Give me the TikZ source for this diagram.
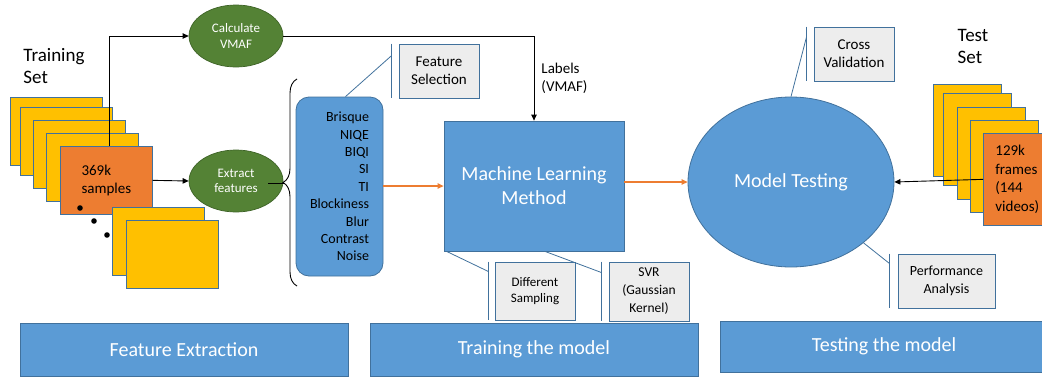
\documentclass[tikz,border=0pt]{standalone}
\usepackage{fontspec}
\setmainfont{Carlito}
\usepackage{xcolor}
\usetikzlibrary{arrows.meta,positioning,calc,shapes.geometric,decorations.pathreplacing}

\definecolor{msblue}{HTML}{5B9BD5}
\definecolor{msedge}{HTML}{41719C}
\definecolor{msgreen}{HTML}{548235}
\definecolor{msgreenedge}{HTML}{3E6327}
\definecolor{msyellow}{HTML}{FFC000}
\definecolor{msorange}{HTML}{ED7D31}
\definecolor{msgray}{HTML}{EDEDED}

\begin{document}
\begin{tikzpicture}[x=1pt,y=-1pt,
  frame/.style={rectangle,draw=msedge,fill=msyellow,line width=0.7pt,inner sep=0pt,anchor=north west},
  trn/.style={frame,minimum width=92pt,minimum height=68pt},
  tst/.style={frame,minimum width=68pt,minimum height=92pt},
  proc/.style={ellipse,draw=msgreenedge,fill=msgreen,line width=0.7pt,inner sep=0pt,minimum width=94pt,minimum height=62pt,text=white,align=center,font=\fontsize{13}{15.5}\selectfont},
  blk/.style={draw=msedge,fill=msblue,line width=0.8pt,inner sep=0pt,align=center},
  callout/.style={rectangle,draw=msedge,fill=msgray,line width=0.8pt,inner sep=0pt,align=center,font=\fontsize{14}{17.5}\selectfont},
  cbar/.style={draw=msedge,line width=0.8pt},
  stage/.style={blk,rectangle,minimum width=328pt,minimum height=53pt,text=white,font=\fontsize{20}{24}\selectfont},
  big/.style={align=left,font=\fontsize{19}{22.5}\selectfont},
  ar/.style={-{Triangle[length=6pt,width=5.5pt]},line width=0.9pt},
  oar/.style={ar,draw=msorange,fill=msorange,line width=1.2pt}
]
\useasboundingbox (0,0) rectangle (1042,378);

% training set
\node[big] (trset) at (54,66) {Training\\Set};
\node[trn] (s1) at (10,97) {};
\node[trn] (s2) at (20,107) {};
\node[trn] (s3) at (33,120) {};
\node[trn] (s4) at (46,133) {};
\node[trn,fill=msorange,align=left,font=\fontsize{15}{18}\selectfont] (smp) at (60,146) {369k\\samples};
\node[trn] (a1) at (112,207) {};
\node[trn] (a2) at (126,220) {};
\fill (80,208) circle (2.8pt) (94,221) circle (2.8pt) (107,235) circle (2.8pt);

% green steps
\node[proc] (calc) at (236,36) {Calculate\\VMAF};
\node[proc] (ext) at (236,181) {Extract\\features};

% features
\node[blk,rectangle,rounded corners=13pt,minimum width=87pt,minimum height=179pt,align=right,font=\fontsize{14}{17.4}\selectfont] (feat) at (339.5,186.5) {Brisque\\NIQE\\BIQI\\SI\\TI\\Blockiness\\Blur\\Contrast\\Noise};
\coordinate (btip) at (284,183);
\draw[decorate,decoration={brace,amplitude=14pt},line width=0.9pt] (297,286) -- (297,79);

% model
\node[blk,rectangle,minimum width=180pt,minimum height=130pt,text=white,font=\fontsize{20}{24}\selectfont] (ml) at (534,186) {Machine Learning\\Method};
\node[blk,ellipse,minimum width=206pt,minimum height=170pt,text=white,font=\fontsize{20}{24}\selectfont] (mt) at (791,182) {Model Testing};

% test set
\node[big] (tsset) at (973,46.5) {Test\\Set};
\node[tst] (t1) at (933,84) {};
\node[tst] (t2) at (943,93) {};
\node[tst] (t3) at (957,107) {};
\node[tst] (t4) at (970,120) {};
\node[tst,fill=msorange,align=left,font=\fontsize{15}{18.7}\selectfont] (tsamp) at (983,133) {129k\\frames\\(144\\videos)};

% callouts
\node[callout,minimum width=80pt,minimum height=54pt,font=\fontsize{15}{18}\selectfont] (fsel) at (439,71) {Feature\\Selection};
\node[callout,minimum width=80pt,minimum height=54pt,font=\fontsize{15}{18}\selectfont] (cval) at (854,54) {Cross\\Validation};
\node[callout,minimum width=97pt,minimum height=54pt] (perf) at (946.5,281) {Performance\\Analysis};
\node[callout,minimum width=80pt,minimum height=58pt,font=\fontsize{13}{16}\selectfont] (dsam) at (535,291) {Different\\Sampling};
\node[callout,minimum width=80pt,minimum height=59pt,font=\fontsize{13.5}{18}\selectfont] (svr) at (649,291.5) {SVR\\(Gaussian\\Kernel)};
\draw[cbar] ([xshift=-7pt]fsel.north west) -- ([xshift=-7pt]fsel.south west);
\draw[cbar] ([xshift=-7pt,yshift=-12pt]fsel.north west) -- ([xshift=6pt]feat.north);
\draw[cbar] ([xshift=-7pt]cval.north west) -- ([xshift=-7pt]cval.south west);
\draw[cbar] ([xshift=-7pt,yshift=-10pt]cval.north west) -- (mt.north);
\draw[cbar] ([xshift=-8pt]perf.north west) -- ([xshift=-8pt]perf.south west);
\draw[cbar] ([xshift=-8pt,yshift=-10pt]perf.north west) -- (mt.-40);
\draw[cbar] ([xshift=-6pt]dsam.north west) -- ([xshift=-6pt]dsam.south west);
\draw[cbar] ([xshift=-6pt,yshift=-10pt]dsam.north west) -- ($(ml.south west)+(3,0)$);
\draw[cbar] ([xshift=-7pt]svr.north west) -- ([xshift=-7pt]svr.south west);
\draw[cbar] ([xshift=-7pt,yshift=-11pt]svr.north west) -- ($(ml.south)+(11,0)$);

% stages
\node[stage] (fex) at (184,349.5) {Feature Extraction};
\node[stage] (trm) at (534,349.5) {Training the model};
\node[stage,minimum height=51pt] (tsm) at (884,346.5) {Testing the model};

% arrows
\draw[ar] ([xshift=3pt]smp.north) |- (calc.west);
\draw[ar] (smp.east) -- (ext.west);
\draw[line width=0.9pt] ([xshift=-15pt,yshift=-2pt]ext.east) -- (btip);
\draw[ar] (calc.east) -| node[pos=0.75,right=7pt,inner sep=0pt,align=left,font=\fontsize{15}{18}\selectfont] {Labels\\(VMAF)} (ml.north);
\draw[oar] (feat.east |- ml.west) -- (ml.west);
\draw[oar] (ml.east |- mt.west) -- (mt.west);
\draw[ar] (tsamp.west) -- (mt.east);
\end{tikzpicture}
\end{document}
